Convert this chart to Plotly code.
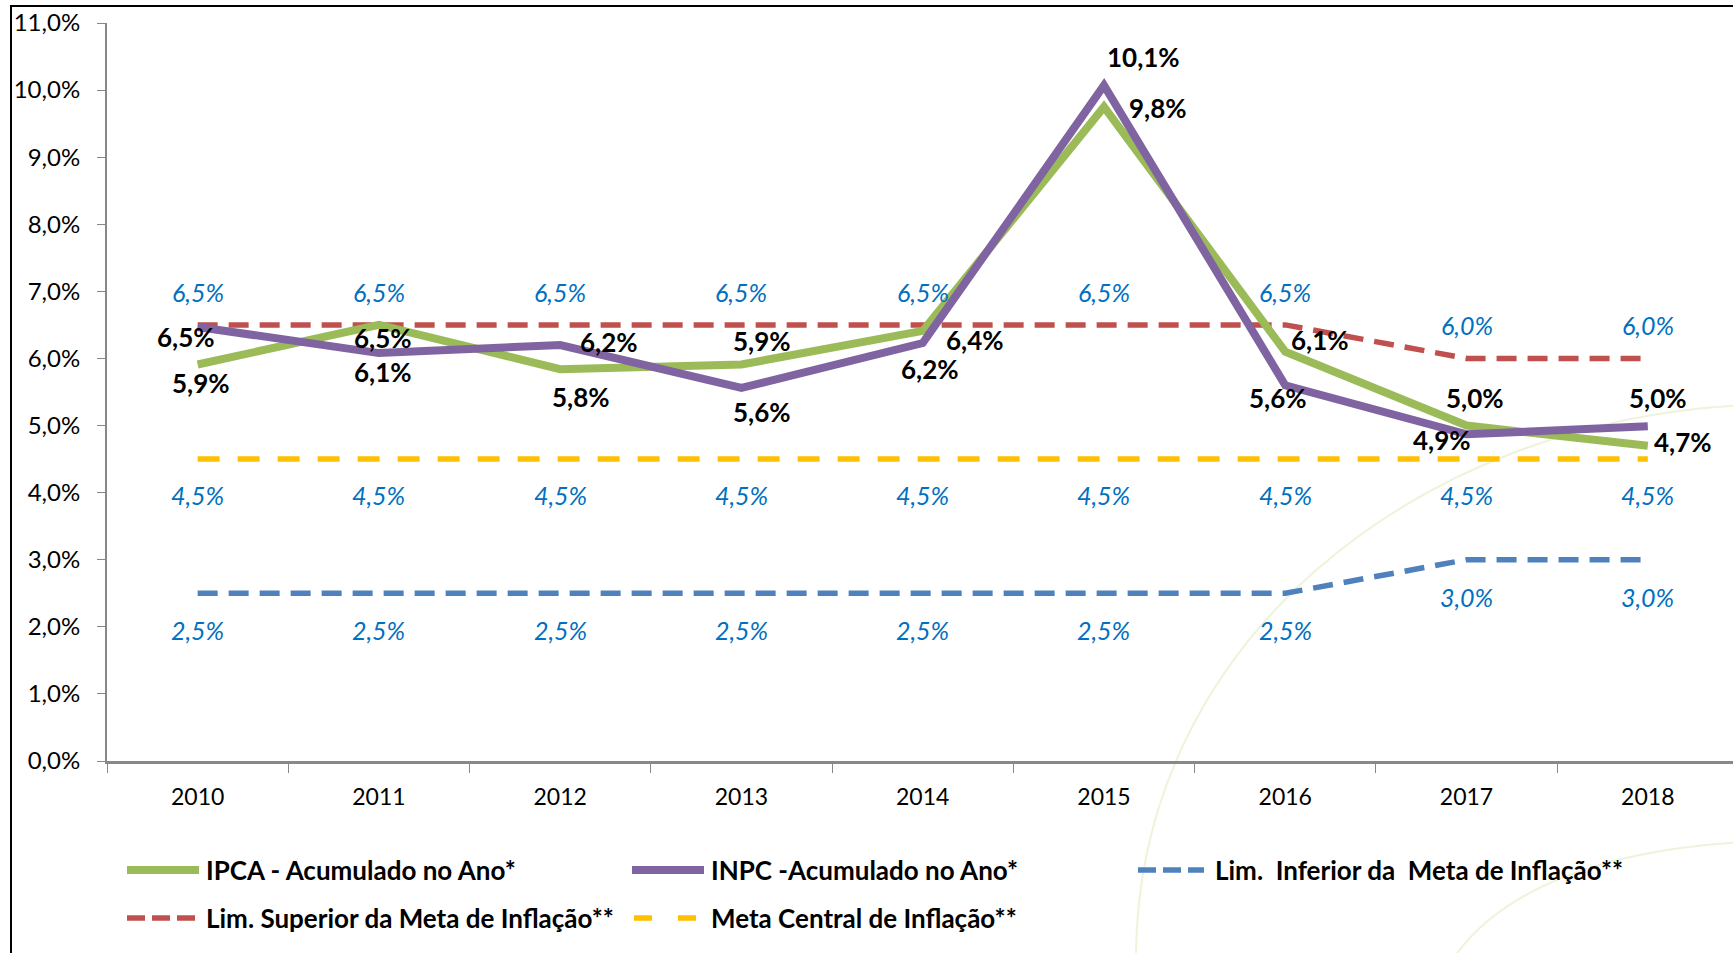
import plotly.graph_objects as go

# ---------------- data ----------------
years = ["2010", "2011", "2012", "2013", "2014", "2015", "2016", "2017", "2018"]
ipca = [5.91, 6.50, 5.84, 5.91, 6.41, 9.75, 6.10, 5.00, 4.70]
inpc = [6.47, 6.08, 6.20, 5.56, 6.23, 10.07, 5.60, 4.87, 4.99]
lim_sup = [6.5, 6.5, 6.5, 6.5, 6.5, 6.5, 6.5, 6.0, 6.0]
meta_central = [4.5, 4.5, 4.5, 4.5, 4.5, 4.5, 4.5, 4.5, 4.5]
lim_inf = [2.5, 2.5, 2.5, 2.5, 2.5, 2.5, 2.5, 3.0, 3.0]
y_ticks = [0, 1, 2, 3, 4, 5, 6, 7, 8, 9, 10, 11]
y_ticktext = ["0,0%", "1,0%", "2,0%", "3,0%", "4,0%", "5,0%", "6,0%",
              "7,0%", "8,0%", "9,0%", "10,0%", "11,0%"]

names = ["IPCA - Acumulado no Ano*", "INPC -Acumulado no Ano*",
         "Lim.  Inferior da  Meta de Inflação**",
         "Lim. Superior da Meta de Inflação**", "Meta Central de Inflação**"]

# ---------------- style ----------------
GREEN, PURPLE = "#9BBB59", "#8064A2"
RED, BLUE, YELLOW = "#C0504D", "#4F81BD", "#FFC000"
LBLUE = "#0070C0"
FONT = "Lato"
NB = "\u00a0"

W, H = 1733, 953
OFF = 0  # body margin removed via post_script
L, R, T, B = 107, 0, 23, 192
PW, PH = W - L - R, H - T - B

def to_px(X):  # screen pixel -> paper
    return (X - OFF - L) / PW

def to_py(Y):
    return (H - B - (Y - OFF)) / PH

def fmt(v):
    return f"{v:.1f}".replace(".", ",") + "%"

# label offsets (pixels) for the bold data labels
ipca_off = [(3, -19), (4, -13), (21, -28), (21, 23), (52, -9), (54, -1), (35, 12), (8, 28), (35, 4)]
inpc_off = [(-12, -10), (4, -19), (49, 3), (21, -24), (7, -26), (40, 28), (-7, -13), (-25, -6), (10, 28)]

fig = go.Figure()

fig.add_trace(go.Scatter(x=years, y=lim_sup, mode="lines", name=names[3],
                         line=dict(color=RED, width=5.5, dash="20px,11px")))
fig.add_trace(go.Scatter(x=years, y=lim_inf, mode="lines", name=names[2],
                         line=dict(color=BLUE, width=5.5, dash="20px,11px")))
fig.add_trace(go.Scatter(x=years, y=meta_central, mode="lines", name=names[4],
                         line=dict(color=YELLOW, width=5.5, dash="22px,18px")))
fig.add_trace(go.Scatter(x=years, y=ipca, mode="lines", name=names[0],
                         line=dict(color=GREEN, width=8)))
fig.add_trace(go.Scatter(x=years, y=inpc, mode="lines", name=names[1],
                         line=dict(color=PURPLE, width=8)))

ann = []
bold = dict(family=FONT, size=26, color="black")
ital = dict(family=FONT, size=25, color=LBLUE)
for i, yr in enumerate(years):
    dx, dy = ipca_off[i]
    ann.append(dict(x=i, y=ipca[i], text="<b>" + fmt(ipca[i]) + "</b>", showarrow=False,
                    xshift=dx, yshift=dy, font=bold))
    dx, dy = inpc_off[i]
    ann.append(dict(x=i, y=inpc[i], text="<b>" + fmt(inpc[i]) + "</b>", showarrow=False,
                    xshift=dx, yshift=dy, font=bold))
    ann.append(dict(x=i, y=lim_sup[i], text="<i>" + fmt(lim_sup[i]) + "</i>", showarrow=False,
                    yshift=33, font=ital))
    ann.append(dict(x=i, y=meta_central[i], text="<i>" + fmt(meta_central[i]) + "</i>", showarrow=False,
                    yshift=-36, font=ital))
    ann.append(dict(x=i, y=lim_inf[i], text="<i>" + fmt(lim_inf[i]) + "</i>", showarrow=False,
                    yshift=-37, font=ital))

shapes = []
# decorative background arcs
arc_col = "#EEF3DA"
def path_pts(p0, c1, c2, p3):
    return "M{:.4f} {:.4f} C{:.4f} {:.4f} {:.4f} {:.4f} {:.4f} {:.4f}".format(
        to_px(p0[0]), to_py(p0[1]), to_px(c1[0]), to_py(c1[1]),
        to_px(c2[0]), to_py(c2[1]), to_px(p3[0]), to_py(p3[1]))
shapes.append(dict(type="path", xref="paper", yref="paper", layer="below",
                   path=path_pts((1136, 960), (1136, 640), (1420, 420), (1745, 405)),
                   line=dict(color=arc_col, width=2)))
shapes.append(dict(type="path", xref="paper", yref="paper", layer="below",
                   path=path_pts((1452, 960), (1500, 890), (1600, 850), (1745, 842)),
                   line=dict(color=arc_col, width=2)))
# outer border
shapes.append(dict(type="rect", xref="paper", yref="paper",
                   x0=to_px(11), x1=to_px(W + 20), y0=to_py(H + 20), y1=to_py(6),
                   line=dict(color="black", width=2), layer="above"))

# manual legend
legend_items = [
    (names[0], GREEN, "solid", 8, 127, 199, 204, 870),
    (names[1], PURPLE, "solid", 8, 632, 704, 709, 870),
    (names[2], BLUE, "18px,7px", 5.5, 1138, 1204, 1213, 870),
    (names[3], RED, "18px,7px", 5.5, 127, 199, 204, 918),
    (names[4], YELLOW, "18px,26px", 5.5, 634, 700, 709, 918),
]
for name, col, dash, wd, x0, x1, xt, yc in legend_items:
    shapes.append(dict(type="line", xref="paper", yref="paper",
                       x0=to_px(x0), x1=to_px(x1), y0=to_py(yc), y1=to_py(yc),
                       line=dict(color=col, width=wd, dash=dash)))
    ann.append(dict(xref="paper", yref="paper", x=to_px(xt), y=to_py(yc), xanchor="left",
                    yanchor="middle", text="<b>" + name + "</b>", showarrow=False,
                    font=dict(family=FONT, size=26, color="black")))

fig.update_layout(
    width=W, height=H,
    margin=dict(l=L, r=R, t=T, b=B, autoexpand=False),
    paper_bgcolor="white", plot_bgcolor="rgba(0,0,0,0)",
    showlegend=False,
    annotations=ann, shapes=shapes,
    font=dict(family=FONT, size=23, color="black"),
)
fig.update_xaxes(type="category", range=[-0.5, 8.47], showgrid=False, zeroline=False,
                 showline=True, linecolor="#888888", linewidth=3,
                 ticks="outside", ticklen=9, tickcolor="#888888", tickwidth=1,
                 tickson="boundaries", tickangle=0, ticklabelstandoff=13,
                 tickfont=dict(family=FONT, size=23, color="black"))
fig.update_yaxes(range=[0, 11], showgrid=False, zeroline=False,
                 tickvals=y_ticks, ticktext=[t + NB * 2 for t in y_ticktext],
                 ticklabeloverflow="allow",
                 showline=True, linecolor="#888888", linewidth=1.5,
                 ticks="outside", ticklen=8, tickcolor="#888888",
                 tickfont=dict(family=FONT, size=24, color="black"))

fig.write_html("out.html", config={"displayModeBar": False},
               post_script="document.body.style.margin='0';document.body.style.overflow='hidden';")
